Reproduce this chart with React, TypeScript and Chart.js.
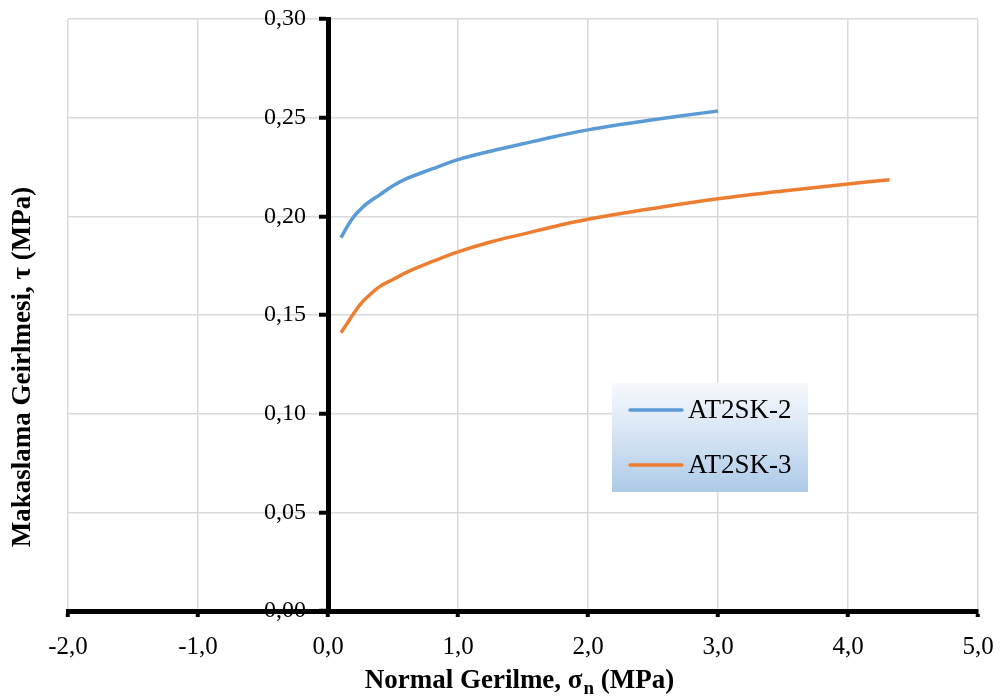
import React, { useEffect, useRef } from "react";
import { Chart, registerables } from "chart.js";

Chart.register(...registerables);

const seriesNames = ["AT2SK-2", "AT2SK-3"];
const seriesColors = ["#5b9bd5", "#ed7d31"];

const sigma2 = [0.1, 0.15, 0.2, 0.25, 0.3, 0.4, 0.5, 0.6, 0.8, 1.0, 1.25, 1.5, 1.75, 2.0, 2.25, 2.5, 2.75, 3.0];
const tau2 = [0.1892, 0.195, 0.2, 0.2035, 0.2065, 0.211, 0.2155, 0.219, 0.224, 0.2287, 0.233, 0.2368, 0.2405, 0.2438, 0.2465, 0.2489, 0.2512, 0.2534];

const sigma3 = [0.1, 0.15, 0.2, 0.25, 0.3, 0.4, 0.5, 0.6, 0.8, 1.0, 1.25, 1.5, 1.75, 2.0, 2.5, 3.0, 3.5, 4.0, 4.32];
const tau3 = [0.141, 0.146, 0.151, 0.1555, 0.159, 0.1645, 0.168, 0.1715, 0.177, 0.182, 0.187, 0.191, 0.195, 0.1985, 0.204, 0.2089, 0.2128, 0.2164, 0.2185];

const xMin = -2;
const xMax = 5;
const xStep = 1;
const yMin = 0;
const yMax = 0.3;
const yStep = 0.05;

const xTitleMain = "Normal Gerilme, σ";
const xTitleSub = "n";
const xTitleEnd = " (MPa)";
const yTitle = "Makaslama Geirlmesi, τ (MPa)";

const FONT = "'Liberation Serif', 'Times New Roman', serif";

const titlesPlugin = {
  id: "titles",
  afterDraw(chart: any) {
    const ctx = chart.ctx;
    ctx.save();
    ctx.fillStyle = "#000";
    const big = "bold 27px " + FONT;
    const small = "bold 19px " + FONT;
    ctx.font = big;
    const w1 = ctx.measureText(xTitleMain).width;
    const w3 = ctx.measureText(xTitleEnd).width;
    ctx.font = small;
    const w2 = ctx.measureText(xTitleSub).width;
    const total = w1 + w2 + w3;
    const cx = 519;
    const by = 688;
    let x = cx - total / 2;
    ctx.textBaseline = "alphabetic";
    ctx.textAlign = "left";
    ctx.font = big;
    ctx.fillText(xTitleMain, x, by);
    x += w1;
    ctx.font = small;
    ctx.fillText(xTitleSub, x + 1, by + 6);
    x += w2 + 1;
    ctx.font = big;
    ctx.fillText(xTitleEnd, x, by);
    // y title
    ctx.translate(30, 367);
    ctx.rotate(-Math.PI / 2);
    ctx.textAlign = "center";
    ctx.textBaseline = "alphabetic";
    ctx.font = big;
    ctx.fillText(yTitle, 0, 0);
    ctx.restore();
  },
};

const legendPlugin = {
  id: "boxLegend",
  afterDraw(chart: any) {
    const ctx = chart.ctx;
    const bx = 612, by = 383, bw = 196, bh = 109;
    ctx.save();
    const g = ctx.createLinearGradient(0, by, 0, by + bh);
    g.addColorStop(0, "#f7f9fd");
    g.addColorStop(0.5, "#d4e3f3");
    g.addColorStop(1, "#adcae8");
    ctx.fillStyle = g;
    ctx.fillRect(bx, by, bw, bh);
    chart.data.datasets.forEach((ds: any, i: number) => {
      const y = by + 27 + i * 55;
      ctx.strokeStyle = ds.borderColor;
      ctx.lineWidth = 3.5;
      ctx.lineCap = "round";
      ctx.beginPath();
      ctx.moveTo(bx + 18, y);
      ctx.lineTo(bx + 70, y);
      ctx.stroke();
      ctx.fillStyle = "#000";
      ctx.font = "27px " + FONT;
      ctx.textAlign = "left";
      ctx.textBaseline = "middle";
      ctx.fillText(ds.label, bx + 76, y + 1);
    });
    ctx.restore();
  },
};

const tickFmtY = (v: any) => Number(v).toFixed(2).replace(".", ",");
const tickFmtX = (v: any) => Number(v).toFixed(1).replace(".", ",");

const zeroPad = (scale: any) => {
  scale.paddingTop = 0;
  scale.paddingBottom = 0;
  scale.paddingLeft = 0;
  scale.paddingRight = 0;
};

export default function App() {
  const ref = useRef<HTMLCanvasElement | null>(null);
  useEffect(() => {
    if (!ref.current) return;
    Chart.defaults.font.family = FONT;
    const chart = new Chart(ref.current, {
      type: "line",
      data: {
        datasets: [
          {
            label: seriesNames[0],
            data: sigma2.map((s, i) => ({ x: s, y: tau2[i] })),
            borderColor: seriesColors[0],
            backgroundColor: seriesColors[0],
            borderWidth: 3.5,
            pointRadius: 0,
            tension: 0.4,
            fill: false,
          },
          {
            label: seriesNames[1],
            data: sigma3.map((s, i) => ({ x: s, y: tau3[i] })),
            borderColor: seriesColors[1],
            backgroundColor: seriesColors[1],
            borderWidth: 3.5,
            pointRadius: 0,
            tension: 0.4,
            fill: false,
          },
        ],
      },
      options: {
        animation: false,
        responsive: false,
        maintainAspectRatio: false,
        layout: { padding: { left: 68, right: 23, top: 19, bottom: 0 } },
        plugins: { legend: { display: false }, tooltip: { enabled: false } },
        scales: {
          x: {
            type: "linear",
            min: xMin,
            max: xMax,
            afterFit: (scale: any) => {
              scale.height = 89;
              zeroPad(scale);
            },
            ticks: {
              stepSize: xStep,
              color: "#000",
              font: { size: 25 },
              padding: 15,
              callback: tickFmtX,
            },
            grid: {
              color: "#d9d9d9",
              lineWidth: 1.5,
              tickColor: "#000",
              tickWidth: 4,
              tickLength: 6,
            },
            border: { color: "#000", width: 5 },
          },
          y: {
            type: "linear",
            min: yMin,
            max: yMax,
            position: { x: 0 },
            afterFit: zeroPad,
            ticks: {
              stepSize: yStep,
              display: false,
            },
            grid: {
              color: "#d9d9d9",
              lineWidth: 1.5,
              tickColor: "#000",
              tickWidth: 4,
              tickLength: 7,
            },
            border: { color: "#000", width: 5 },
          },
          yLabels: {
            type: "linear",
            axis: "y",
            min: yMin,
            max: yMax,
            position: { x: -0.17 },
            afterFit: zeroPad,
            ticks: {
              stepSize: yStep,
              color: "#000",
              font: { size: 24 },
              callback: tickFmtY,
            },
            grid: { display: false, drawTicks: false },
            border: { display: false },
          },
        },
      },
      plugins: [titlesPlugin, legendPlugin],
    } as any);
    return () => chart.destroy();
  }, []);
  return (
    <div style={{ position: "absolute", left: 0, top: 0, width: 1001, height: 700, background: "#fff" }}>
      <canvas ref={ref} width={1001} height={700} style={{ width: 1001, height: 700, display: "block" }} />
    </div>
  );
}
